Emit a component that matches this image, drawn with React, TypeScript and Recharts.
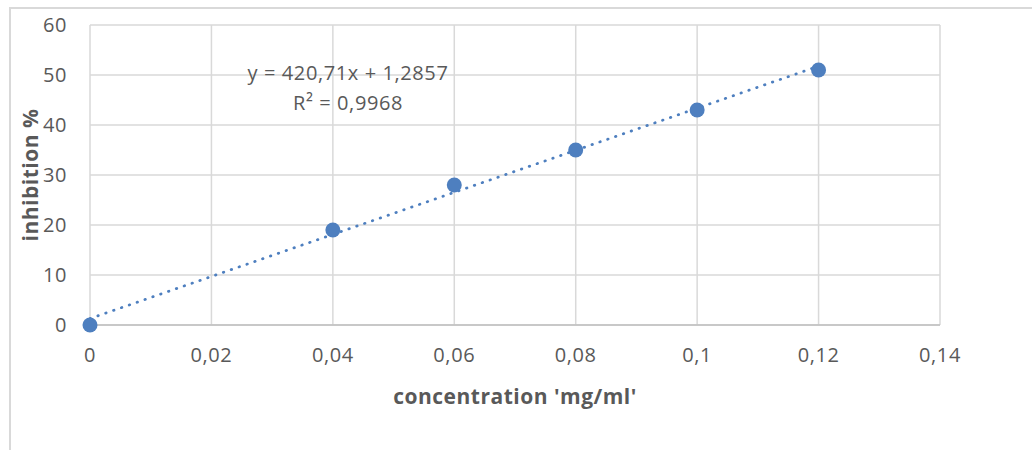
import { ComposedChart, Scatter, Line, XAxis, YAxis, CartesianGrid, Label } from 'recharts';

// measured points
const concentration = [0, 0.04, 0.06, 0.08, 0.1, 0.12];
const inhibition = [0, 19, 28, 35, 43, 51];

// linear trendline endpoints (y = 420,71x + 1,2857)
const trendX = [0, 0.12];
const trendY = [1.29, 51.77];

const xTicks = [0, 0.02, 0.04, 0.06, 0.08, 0.1, 0.12, 0.14];
const yTicks = [0, 10, 20, 30, 40, 50, 60];

const equationText = 'y = 420,71x + 1,2857';
const r2Text = 'R² = 0,9968';

const points = concentration.map((x, i) => ({ x, y: inhibition[i] }));
const trend = trendX.map((x, i) => ({ x, t: trendY[i] }));

const FONT = '"Open Sans", sans-serif';
const TEXT = '#595959';
const BLUE = '#4e7fbf';

const fmt = (v: number) => String(v).replace('.', ',');

const tickStyle = { fill: TEXT, fontSize: 20, fontFamily: FONT, letterSpacing: 0.6 };
const titleStyle = { fill: TEXT, fontSize: 21, fontWeight: 700, fontFamily: FONT, letterSpacing: 0.5 };

export default function App() {
  return (
    <div style={{ position: 'absolute', left: 0, top: 0, width: 1032, height: 450, overflow: 'hidden', background: '#fff', fontFamily: FONT }}>
      <div style={{ position: 'absolute', left: 9, top: 7, width: 1100, height: 500, borderTop: '2px solid #d9d9d9', borderLeft: '2px solid #d9d9d9' }} />
      <ComposedChart width={1032} height={450} margin={{ top: 25, right: 92, left: 30, bottom: 95 }} style={{ position: 'absolute', left: 0, top: 0 }}>
        <CartesianGrid stroke="#d9d9d9" strokeWidth={1.5} />
        <XAxis
          type="number"
          dataKey="x"
          domain={[0, 0.14]}
          ticks={xTicks}
          tickFormatter={fmt}
          axisLine={{ stroke: '#bfbfbf', strokeWidth: 1.5 }}
          tickLine={false}
          tickSize={0}
          tickMargin={23}
          height={30}
          tick={tickStyle}
        >
          <Label value="concentration 'mg/ml'" position="bottom" offset={34} style={titleStyle} />
        </XAxis>
        <YAxis
          type="number"
          domain={[0, 60]}
          ticks={yTicks}
          axisLine={false}
          tickLine={false}
          tickSize={0}
          tickMargin={23}
          width={60}
          tick={tickStyle}
        >
          <Label value="inhibition %" angle={-90} position="insideLeft" offset={1} style={{ ...titleStyle, textAnchor: 'middle' }} />
        </YAxis>
        <Line
          data={trend}
          dataKey="t"
          type="linear"
          stroke={BLUE}
          strokeWidth={2.75}
          strokeDasharray="0.5 7.8"
          strokeLinecap="round"
          dot={false}
          activeDot={false}
          isAnimationActive={false}
        />
        <Scatter
          data={points}
          dataKey="y"
          fill={BLUE}
          isAnimationActive={false}
          shape={(p: any) => <circle cx={p.cx} cy={p.cy} r={7.5} fill={BLUE} />}
        />
      </ComposedChart>
      <div style={{ position: 'absolute', left: 348, top: 72, transform: 'translate(-50%, -50%)', color: TEXT, fontSize: 20, letterSpacing: 0.6, whiteSpace: 'nowrap' }}>{equationText}</div>
      <div style={{ position: 'absolute', left: 348, top: 102, transform: 'translate(-50%, -50%)', color: TEXT, fontSize: 20, letterSpacing: 0.6, whiteSpace: 'nowrap' }}>{r2Text}</div>
    </div>
  );
}
